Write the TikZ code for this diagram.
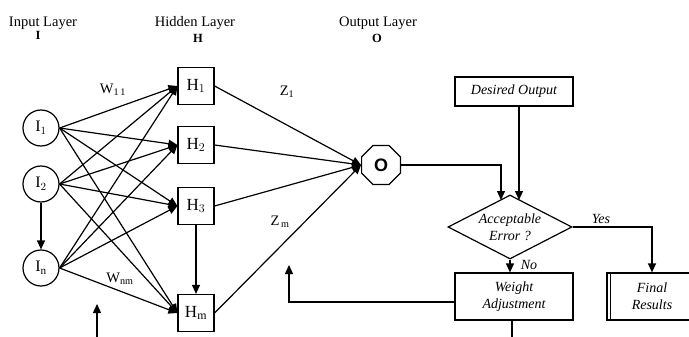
\documentclass[tikz,border=0pt]{standalone}
\usepackage{fontspec}
\setmainfont{Liberation Serif}
\newfontfamily\sansO{Liberation Sans}
\usetikzlibrary{shapes.geometric,arrows.meta,calc}
\begin{document}
\begin{tikzpicture}[x=1pt,y=-1pt,
  line width=1.2pt,
  tip/.style={-{Triangle[length=9pt,width=8pt]}},
  inp/.style={circle,draw,minimum size=36pt,inner sep=0pt,font=\fontsize{16}{16}\selectfont},
  hid/.style={rectangle,draw,minimum width=36pt,minimum height=37pt,inner sep=0pt,font=\fontsize{17}{17}\selectfont},
  outn/.style={regular polygon,regular polygon sides=8,draw,minimum size=42pt,inner sep=0pt,font=\fontsize{18}{18}\sansO\bfseries},
  flow/.style={rectangle,draw,inner sep=0pt,align=center,font=\fontsize{14}{17}\selectfont\itshape},
  ttl/.style={font=\fontsize{14.5}{15}\selectfont,inner sep=0pt,anchor=base},
  ttlsym/.style={font=\fontsize{12.5}{12.5}\selectfont\bfseries,inner sep=0pt,anchor=base},
  wlab/.style={font=\fontsize{14.5}{14.5}\selectfont,inner sep=0pt},
  flab/.style={font=\fontsize{14}{14}\selectfont\itshape,inner sep=0pt},
]
\clip (0,0) rectangle (689,337);
\fill[white] (0,0) rectangle (689,337);

% titles
\node[ttl] (tI) at (43,27) {Input Layer};
\node[ttlsym] (sI) at (38,40) {I};
\node[ttl] (tH) at (195,27) {Hidden Layer};
\node[ttlsym] (sH) at (198,43) {H};
\node[ttl] (tO) at (378,27) {Output Layer};
\node[ttlsym] (sO) at (377,43) {O};

% network nodes
\node[inp] (i1) at (41,128) {$\mathrm{I}_1$};
\node[inp] (i2) at (41,184) {$\mathrm{I}_2$};
\node[inp] (in) at (41,268) {$\mathrm{I}_\mathrm{n}$};
\node[hid] (h1) at (196,86) {$\mathrm{H}_1$};
\node[hid] (h2) at (196,145) {$\mathrm{H}_2$};
\node[hid] (h3) at (196,206) {$\mathrm{H}_3$};
\node[hid] (hm) at (196,313) {$\mathrm{H}_\mathrm{m}$};
\node[outn] (o) at (381,165) {O};

% flowchart nodes
\node[flow,minimum width=118pt,minimum height=29pt] (des) at (514,91.5) {Desired Output};
\node[diamond,draw,aspect=1.94,minimum width=124pt,minimum height=64pt,inner sep=0pt,align=center,font=\fontsize{14}{17}\selectfont\itshape] (dia) at (510,227) {Acceptable\\Error ?};
\node[flow,minimum width=118pt,minimum height=47pt] (wa) at (514,296.5) {Weight\\Adjustment};
\node[flow,minimum width=90pt,minimum height=47pt] (fr) at (652,296.5) {Final\\Results};
\draw ([xshift=4pt]fr.north west) -- ([xshift=4pt]fr.south west);

% network connectors
\foreach \a in {i1,i2,in}
  \foreach \b in {h1,h2,h3,hm}
    \draw[tip] (\a.east) -- (\b.west);
\foreach \b in {h1,h2,h3,hm}
  \draw[tip] (\b.east) -- (o.west);
\draw[tip] (i2) -- (in);
\draw[tip] (h3) -- (hm);

% weight labels
\node[wlab] (w11) at (113,90) {W\textsubscript{1\,1}};
\node[wlab] (wnm) at (120,279) {W\textsubscript{nm}};
\node[wlab] (z1) at (287,92) {Z\textsubscript{1}};
\node[wlab] (zm) at (280,222) {Z\textsubscript{\,m}};

% flowchart connectors
\coordinate (dinL) at (501,200);
\coordinate (dinR) at (519,200);
\draw[tip] (o.east) -| (dinL);
\draw[tip] (des.south -| dinR) -- (dinR);
\draw[tip] (dia.east) -| (fr.north);
\node[flab] (yes) at (601,219) {Yes};
\draw[tip] (dia.south) -- (dia.south |- wa.north);
\node[flab] (no) at (529,265) {No};

\coordinate (fbc) at (289,302);
\coordinate (fbt) at (289,265);
\draw[tip] (wa.west |- fbc) -- (fbc) -- (fbt);
\coordinate (wab) at (512,345);
\draw (wa.south -| wab) -- (wab);
\coordinate (lb) at (97,345);
\coordinate (lt) at (97,304);
\draw[tip] (lb) -- (lt);
\end{tikzpicture}
\end{document}
